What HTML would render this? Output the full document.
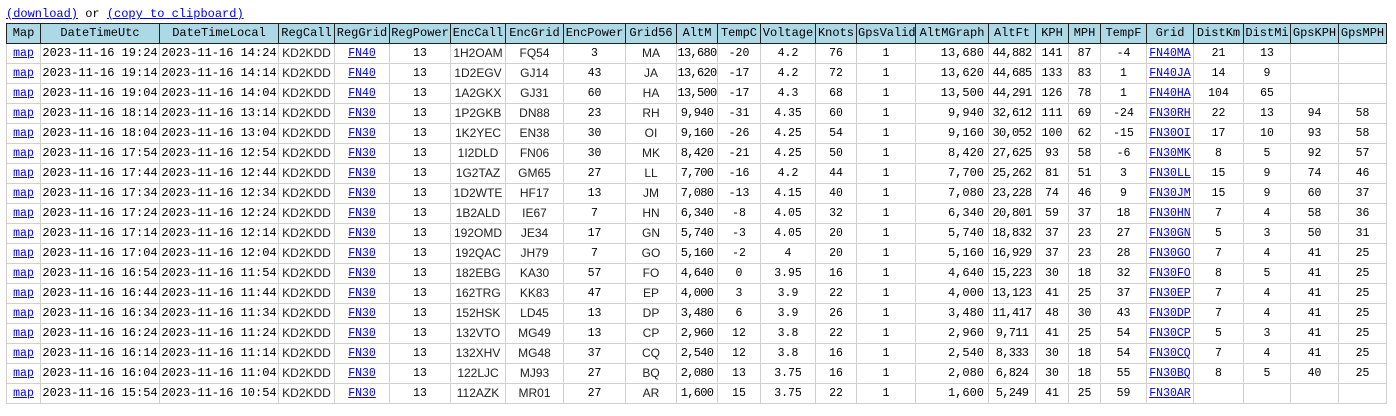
<!DOCTYPE html>
<html><head><meta charset="utf-8">
<style>
body{margin:0;background:#fff;font-family:"Liberation Mono",monospace;font-size:11.5px;color:#000}
#links{position:absolute;left:6px;top:7px;line-height:14px;font-size:12px}
a{color:#0000ee;text-decoration:underline}
table{position:absolute;left:6px;top:23px;border-collapse:collapse;table-layout:fixed;width:1380px}
th,td{height:19px;padding:0 1px;white-space:nowrap;overflow:hidden;text-align:center;line-height:19px}
th{background:#add8e6;border:1px solid #222;font-weight:normal;font-size:12px}
td{border:1px solid #d0d0d0}
.d{font-size:12px}
.n{font-size:12px;letter-spacing:-0.7px;padding:0}
.s{font-family:"Liberation Sans",sans-serif;font-size:12px;color:#222}
.r{text-align:right;padding-right:4px;font-size:12px}
</style></head><body>
<div id="links"><a href="#">(download)</a> or <a href="#">(copy to clipboard)</a></div>
<table id="t">
<colgroup id="cg"></colgroup>
<thead><tr id="hr"></tr></thead>
<tbody id="tb"></tbody>
</table>
<script>
const headers=["Map","DateTimeUtc","DateTimeLocal","RegCall","RegGrid","RegPower","EncCall","EncGrid","EncPower","Grid56","AltM","TempC","Voltage","Knots","GpsValid","AltMGraph","AltFt","KPH","MPH","TempF","Grid","DistKm","DistMi","GpsKPH","GpsMPH"];
const widths=[34,119,119,56,55,61,55,58,62,51,41,43,55,41,59,73,47,33,32,46,47,50,47,48,48];
const utc=["19:24","19:14","19:04","18:14","18:04","17:54","17:44","17:34","17:24","17:14","17:04","16:54","16:44","16:34","16:24","16:14","16:04","15:54"];
const loc=["14:24","14:14","14:04","13:14","13:04","12:54","12:44","12:34","12:24","12:14","12:04","11:54","11:44","11:34","11:24","11:14","11:04","10:54"];
const regGrid=["FN40","FN40","FN40","FN30","FN30","FN30","FN30","FN30","FN30","FN30","FN30","FN30","FN30","FN30","FN30","FN30","FN30","FN30"];
const encCall=["1H2OAM","1D2EGV","1A2GKX","1P2GKB","1K2YEC","1I2DLD","1G2TAZ","1D2WTE","1B2ALD","192OMD","192QAC","182EBG","162TRG","152HSK","132VTO","132XHV","122LJC","112AZK"];
const encGrid=["FQ54","GJ14","GJ31","DN88","EN38","FN06","GM65","HF17","IE67","JE34","JH79","KA30","KK83","LD45","MG49","MG48","MJ93","MR01"];
const encPower=[3,43,60,23,30,30,27,13,7,17,7,57,47,13,13,37,27,27];
const grid56=["MA","JA","HA","RH","OI","MK","LL","JM","HN","GN","GO","FO","EP","DP","CP","CQ","BQ","AR"];
const altM=[13680,13620,13500,9940,9160,8420,7700,7080,6340,5740,5160,4640,4000,3480,2960,2540,2080,1600];
const tempC=[-20,-17,-17,-31,-26,-21,-16,-13,-8,-3,-2,0,3,6,12,12,13,15];
const voltage=["4.2","4.2","4.3","4.35","4.25","4.25","4.2","4.15","4.05","4.05","4","3.95","3.9","3.9","3.8","3.8","3.75","3.75"];
const knots=[76,72,68,60,54,50,44,40,32,20,20,16,22,26,22,16,16,22];
const altFt=[44882,44685,44291,32612,30052,27625,25262,23228,20801,18832,16929,15223,13123,11417,9711,8333,6824,5249];
const kph=[141,133,126,111,100,93,81,74,59,37,37,30,41,48,41,30,30,41];
const mph=[87,83,78,69,62,58,51,46,37,23,23,18,25,30,25,18,18,25];
const tempF=[-4,1,1,-24,-15,-6,3,9,18,27,28,32,37,43,54,54,55,59];
const distKm=[21,14,104,22,17,8,15,15,7,5,7,8,7,7,5,7,8,""];
const distMi=[13,9,65,13,10,5,9,9,4,3,4,5,4,4,3,4,5,""];
const gpsKph=["","","",94,93,92,74,60,58,50,41,41,41,41,41,41,40,""];
const gpsMph=["","","",58,58,57,46,37,36,31,25,25,25,25,25,25,25,""];
const fmt=n=>n.toLocaleString("en-US");
const cg=document.getElementById("cg"),hr=document.getElementById("hr"),tb=document.getElementById("tb");
widths.forEach(w=>{const c=document.createElement("col");c.style.width=w+"px";cg.appendChild(c);});
headers.forEach(h=>{const th=document.createElement("th");th.textContent=h;


hr.appendChild(th);});
for(let i=0;i<utc.length;i++){
 const tr=document.createElement("tr");
 
 
 const cells=[["link","map"],["d","2023-11-16 "+utc[i]],["d","2023-11-16 "+loc[i]],["s","KD2KDD"],["link",regGrid[i]],["","13"],["s",encCall[i]],["s",encGrid[i]],["",encPower[i]],["s",grid56[i]],["n",fmt(altM[i])],["",tempC[i]],["",voltage[i]],["",knots[i]],["","1"],["r",fmt(altM[i])],["n",fmt(altFt[i])],["",kph[i]],["",mph[i]],["",tempF[i]],["link",regGrid[i]+grid56[i]],["",distKm[i]],["",distMi[i]],["",gpsKph[i]],["",gpsMph[i]]];
 cells.forEach((c,j)=>{const td=document.createElement("td");
  
  
  if(c[0]==="link"){const a=document.createElement("a");a.href="#";a.textContent=c[1];
   
   
   td.appendChild(a);}
  else{td.textContent=c[1];if(c[0])td.className=c[0];}
  tr.appendChild(td);});
 tb.appendChild(tr);
}
</script>
</body></html>
